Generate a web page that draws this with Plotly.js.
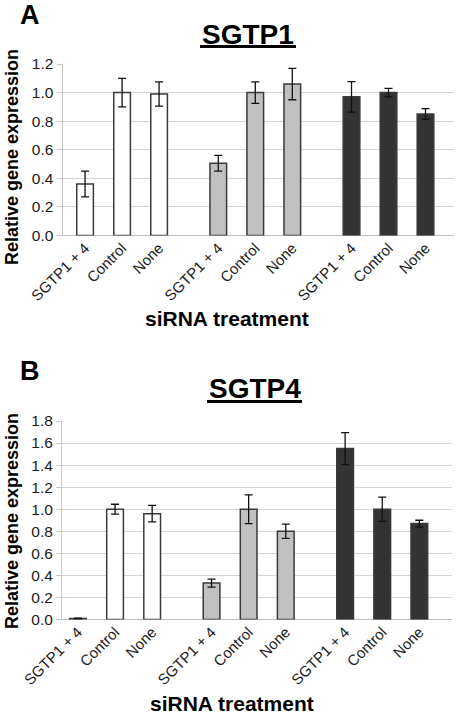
<!DOCTYPE html>
<html>
<head>
<meta charset="utf-8">
<script src="https://cdn.plot.ly/plotly-3.0.1.min.js"></script>
<style>html,body{margin:0;padding:0;background:#fff;}#chart{width:458px;height:714px;}</style>
</head>
<body>
<div id="chart"></div>
<script>
// ---- data ----
const categories = ['SGTP1 + 4', 'Control', 'None'];
const groupNames = ['Group 1', 'Group 2', 'Group 3'];

// Panel A: SGTP1
const sgtp1Group1 = [0.36, 1.00, 0.99];
const sgtp1Group1Err = [0.09, 0.10, 0.085];
const sgtp1Group2 = [0.505, 1.00, 1.06];
const sgtp1Group2Err = [0.055, 0.075, 0.11];
const sgtp1Group3 = [0.97, 1.00, 0.85];
const sgtp1Group3Err = [0.107, 0.03, 0.038];

// Panel B: SGTP4
const sgtp4Group1 = [0.008, 1.00, 0.96];
const sgtp4Group1Err = [0.005, 0.045, 0.075];
const sgtp4Group2 = [0.33, 1.00, 0.80];
const sgtp4Group2Err = [0.037, 0.13, 0.065];
const sgtp4Group3 = [1.55, 1.00, 0.87];
const sgtp4Group3Err = [0.145, 0.11, 0.03];

const yTicksA = [0, 0.2, 0.4, 0.6, 0.8, 1.0, 1.2];
const yTicksB = [0, 0.2, 0.4, 0.6, 0.8, 1.0, 1.2, 1.4, 1.6, 1.8];

// ---- layout helpers ----
const W = 458, H = 714;
const groupStep = 3.6;
function pos(g) { return categories.map((c, i) => g * groupStep + i); }
const allPos = [0, 1, 2].flatMap(g => pos(g));
const allText = [0, 1, 2].flatMap(() => categories);

const fills = ['#ffffff', '#c0c0c0', '#333333'];
const outline = '#3a3a3a';
const FONT = 'Liberation Sans, Arial, sans-serif';

function bar(g, vals, errs, xa, ya) {
  return {
    type: 'bar', x: pos(g), y: vals, name: groupNames[g],
    xaxis: xa, yaxis: ya, width: 0.45,
    marker: {color: fills[g], line: {color: outline, width: 1.5}},
    error_y: {type: 'data', array: errs, visible: true, color: '#111', thickness: 1.3, width: 4},
    showlegend: false, hoverinfo: 'x+y'
  };
}

const data = [
  bar(0, sgtp1Group1, sgtp1Group1Err, 'x', 'y'),
  bar(1, sgtp1Group2, sgtp1Group2Err, 'x', 'y'),
  bar(2, sgtp1Group3, sgtp1Group3Err, 'x', 'y'),
  bar(0, sgtp4Group1, sgtp4Group1Err, 'x2', 'y2'),
  bar(1, sgtp4Group2, sgtp4Group2Err, 'x2', 'y2'),
  bar(2, sgtp4Group3, sgtp4Group3Err, 'x2', 'y2')
];

function py(p) { return 1 - p / H; }
function px(p) { return p / W; }

const xBase = {
  tickmode: 'array', tickvals: allPos, ticktext: allText, tickangle: -45,
  tickfont: {family: FONT, size: 15, color: '#1a1a1a'},
  showgrid: false, zeroline: false, showline: false, ticks: '', fixedrange: true
};
const yBase = {
  tickmode: 'array', tickformat: '.1f',
  tickfont: {family: FONT, size: 15.5, color: '#1a1a1a'},
  showgrid: true, gridcolor: '#d4d4d4', gridwidth: 1,
  showline: true, linecolor: '#c8c8c8', linewidth: 1,
  ticks: 'outside', ticklen: 5, tickcolor: '#c8c8c8',
  zeroline: true, zerolinecolor: '#bdbdbd', zerolinewidth: 1.5, fixedrange: true
};

function ann(text, x, y, size, angle) {
  return {text: text, x: px(x), y: py(y), xref: 'paper', yref: 'paper',
          xanchor: 'center', yanchor: 'middle', showarrow: false,
          textangle: angle || 0, font: {family: FONT, size: size, color: '#000'}};
}
function underline(x0, x1, y) {
  return {type: 'line', xref: 'paper', yref: 'paper', x0: px(x0), x1: px(x1), y0: py(y), y1: py(y),
          line: {color: '#000', width: 3}};
}

const layout = {
  width: W, height: H,
  margin: {l: 0, r: 0, t: 0, b: 0},
  paper_bgcolor: '#fff', plot_bgcolor: '#fff',
  bargap: 0,
  xaxis: Object.assign({}, xBase, {domain: [px(62.5), px(454)], range: [-0.61, 9.97], anchor: 'y'}),
  yaxis: Object.assign({}, yBase, {domain: [py(235.5), py(64)], range: [0, 1.2], tickvals: yTicksA, anchor: 'x'}),
  xaxis2: Object.assign({}, xBase, {domain: [px(62), px(452)], range: [-0.43, 10.08], anchor: 'y2'}),
  yaxis2: Object.assign({}, yBase, {domain: [py(619.5), py(421)], range: [0, 1.8], tickvals: yTicksB, anchor: 'x2'}),
  annotations: [
    ann('<b>A</b>', 30, 15, 27),
    ann('<b>B</b>', 30, 371, 27),
    ann('<b>SGTP1</b>', 248, 34, 28),
    ann('<b>SGTP4</b>', 255, 389, 28),
    ann('<b>Relative gene expression</b>', 12, 157, 18, -90),
    ann('<b>Relative gene expression</b>', 12, 521, 18, -90),
    ann('<b>siRNA treatment</b>', 227, 318, 21),
    ann('<b>siRNA treatment</b>', 232, 703, 21)
  ],
  shapes: [
    underline(200, 296, 46.5),
    underline(207, 302, 401.5)
  ]
};

Plotly.newPlot('chart', data, layout, {staticPlot: true, displayModeBar: false});
</script>
</body>
</html>
